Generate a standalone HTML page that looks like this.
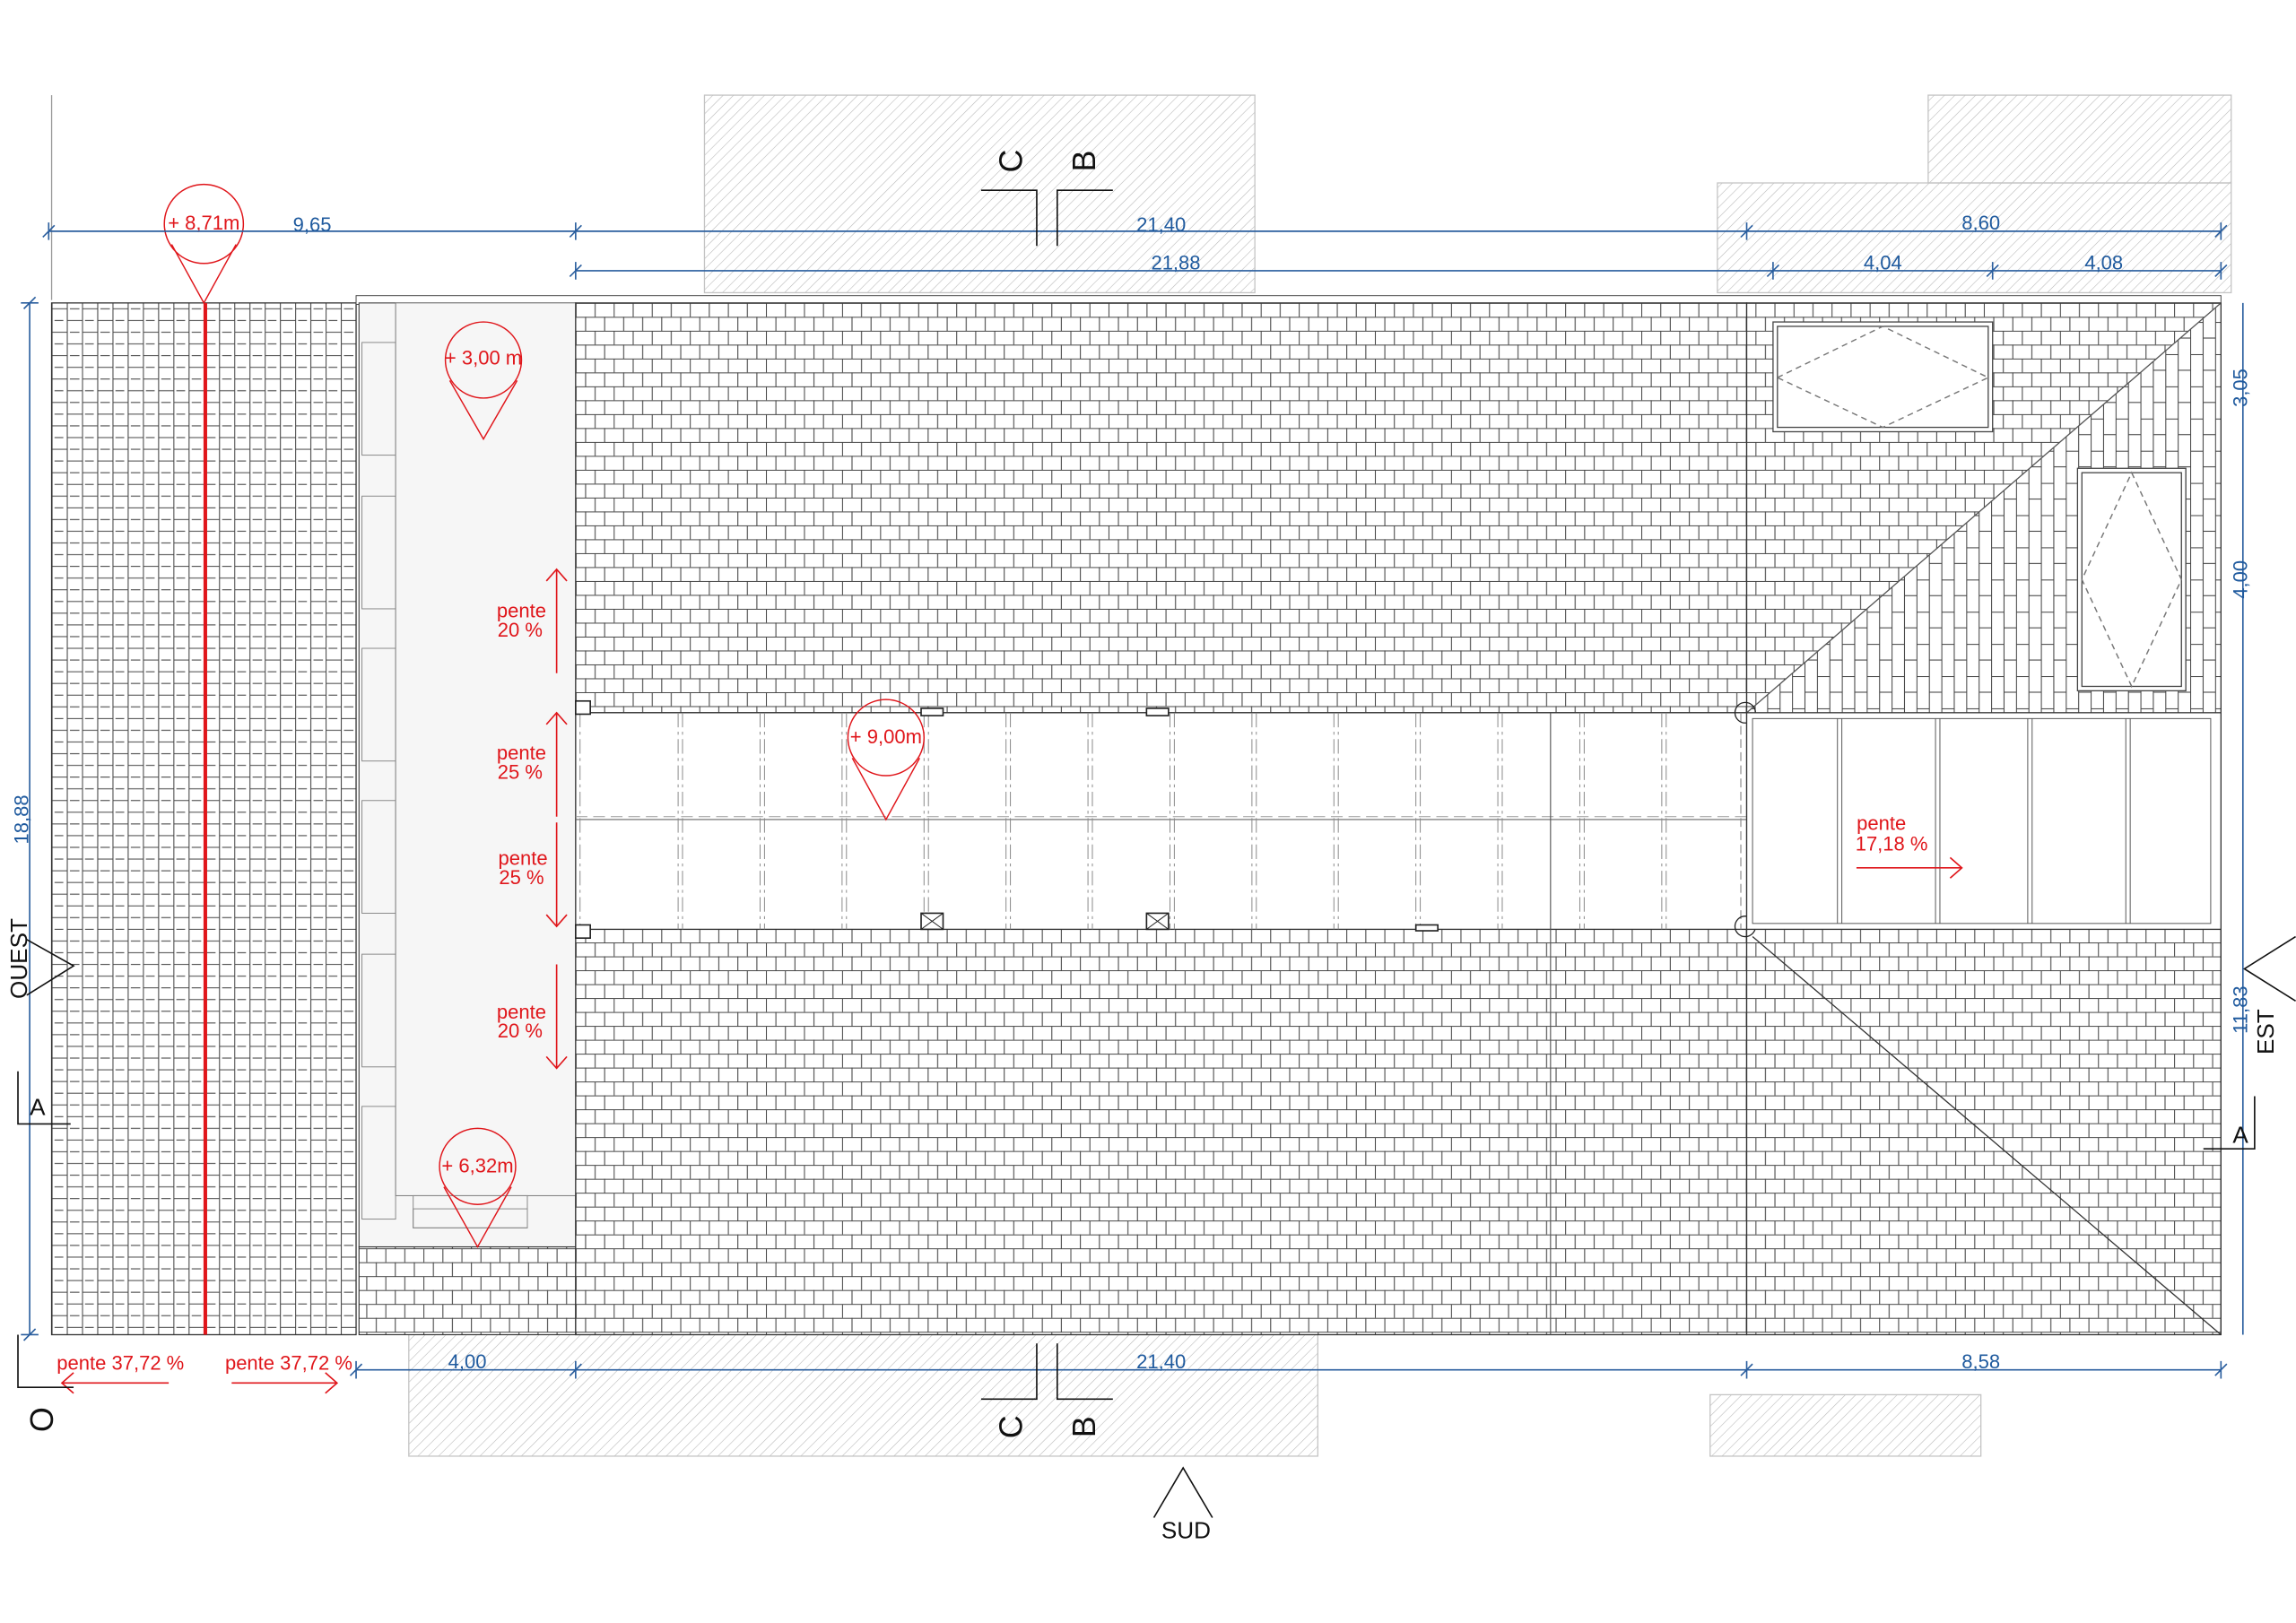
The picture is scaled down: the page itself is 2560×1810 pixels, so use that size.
<!DOCTYPE html>
<html><head><meta charset="utf-8"><style>
html,body{margin:0;padding:0;background:#fff}
svg{display:block}
text{font-family:"Liberation Sans",sans-serif}
.b{fill:#1f5a9e;font-size:13.5px}
.r{fill:#e0161b;font-size:13.5px}
.k{fill:#111}
</style></head><body>
<svg width="2560" height="1810" viewBox="0 0 1568 1109" xmlns="http://www.w3.org/2000/svg">
<defs>
<pattern id="h" width="5" height="5" patternUnits="userSpaceOnUse" patternTransform="rotate(45)">
<line x1="0" y1="0" x2="0" y2="5" stroke="#b8b8b8" stroke-width="0.7"/>
</pattern>
<pattern id="t" width="26" height="19" patternUnits="userSpaceOnUse" x="393" y="207">
<rect width="26" height="19" fill="#fff"/>
<g stroke="#444" stroke-width="0.65">
<line x1="0" y1="0.3" x2="26" y2="0.3"/><line x1="0" y1="9.8" x2="26" y2="9.8"/>
<line x1="0.3" y1="0" x2="0.3" y2="9.5"/><line x1="13.3" y1="0" x2="13.3" y2="9.5"/>
<line x1="6.8" y1="9.5" x2="6.8" y2="19"/><line x1="19.8" y1="9.5" x2="19.8" y2="19"/>
</g></pattern>
<pattern id="v" width="20.8" height="16" patternUnits="userSpaceOnUse" x="35" y="207">
<rect width="20.8" height="16" fill="#fff"/>
<g stroke="#444" stroke-width="0.65">
<line x1="0.3" y1="0" x2="0.3" y2="16"/><line x1="10.7" y1="0" x2="10.7" y2="16"/>
<line x1="0" y1="4" x2="10.4" y2="4"/><line x1="10.4" y1="12" x2="20.8" y2="12"/>
<line x1="2" y1="12" x2="8" y2="12"/><line x1="12.5" y1="4" x2="19" y2="4"/>
</g></pattern>
<pattern id="vv" width="17" height="22" patternUnits="userSpaceOnUse">
<rect width="17" height="22" fill="#fff"/>
<g stroke="#444" stroke-width="0.65">
<line x1="0.3" y1="0" x2="0.3" y2="22"/>
<line x1="0" y1="0.3" x2="8.5" y2="0.3"/><line x1="8.5" y1="11" x2="17" y2="11"/>
<line x1="8.8" y1="0" x2="8.8" y2="22"/>
</g></pattern>
<clipPath id="tri1"><polygon points="1193,487 1517,207 1517,487"/></clipPath>
</defs>

<g stroke="#c4c4c4" stroke-width="0.8" fill="url(#h)">
<rect x="481" y="65" width="376" height="135"/>
<rect x="1317" y="65" width="207" height="60"/>
<rect x="1173" y="125" width="351" height="75"/>
<rect x="279" y="912" width="621" height="83"/>
<rect x="1168" y="953" width="185" height="42"/>
</g>
<line x1="35" y1="65" x2="35" y2="205" stroke="#999" stroke-width="0.8"/>

<rect x="35" y="207" width="208" height="705" fill="url(#v)" stroke="#333" stroke-width="0.8"/>
<rect x="243" y="202" width="1274" height="6" fill="#fff" stroke="#444" stroke-width="0.6"/>
<rect x="245" y="207" width="148" height="645" fill="#f6f6f6" stroke="#444" stroke-width="0.7"/>
<rect x="270" y="207" width="123" height="610" fill="#f6f6f6" stroke="#777" stroke-width="0.6"/>
<g fill="none" stroke="#888" stroke-width="0.6">
<rect x="247" y="234" width="23" height="77"/><rect x="247" y="339" width="23" height="77"/>
<rect x="247" y="443" width="23" height="77"/><rect x="247" y="547" width="23" height="77"/>
<rect x="247" y="652" width="23" height="77"/><rect x="247" y="756" width="23" height="77"/>
<rect x="282" y="817" width="78" height="22"/><rect x="282" y="826" width="78" height="13"/>
</g>
<rect x="245" y="852" width="148" height="60" fill="url(#t)" stroke="#333" stroke-width="0.7"/>
<rect x="393" y="207" width="800" height="280" fill="url(#t)" stroke="#333" stroke-width="0.8"/>
<rect x="393" y="635" width="800" height="277" fill="url(#t)" stroke="#333" stroke-width="0.8"/>
<rect x="1193" y="207" width="324" height="280" fill="url(#t)" stroke="#333" stroke-width="0.8"/>
<rect x="1193" y="207" width="324" height="280" fill="url(#vv)" clip-path="url(#tri1)"/>
<rect x="1193" y="635" width="324" height="277" fill="url(#t)" stroke="#333" stroke-width="0.8"/>
<line x1="1193" y1="487" x2="1517" y2="207" stroke="#555" stroke-width="0.8"/>
<line x1="1197" y1="640" x2="1517" y2="912" stroke="#333" stroke-width="0.8"/>
<line x1="1517" y1="207" x2="1517" y2="912" stroke="#333" stroke-width="0.8"/>

<g stroke="#444" stroke-width="0.8">
<rect x="1211" y="220" width="150" height="75" fill="#fff"/>
<rect x="1214" y="223" width="144" height="69" fill="none"/>
<rect x="1419" y="320" width="74" height="152" fill="#fff"/>
<rect x="1422" y="323" width="68" height="146" fill="none"/>
</g>
<g fill="none" stroke="#777" stroke-width="0.9" stroke-dasharray="4,3">
<polygon points="1214,258 1286,223 1358,258 1286,292"/>
<polygon points="1456,323 1490,396 1456,469 1422,396"/>
</g>

<rect x="393" y="487" width="800" height="148" fill="#fff" stroke="#333" stroke-width="0.8"/>
<line x1="393" y1="560" x2="1193" y2="560" stroke="#666" stroke-width="0.7"/>
<line x1="393" y1="558" x2="1193" y2="558" stroke="#999" stroke-width="0.6" stroke-dasharray="8,4"/>
<g stroke="#888" stroke-width="0.6" stroke-dasharray="10,3,2,3">
<path d="M463 487V635M466 487V635M519 487V635M522 487V635M575 487V635M578 487V635M631 487V635M634 487V635M687 487V635M690 487V635M743 487V635M746 487V635M799 487V635M802 487V635M855 487V635M858 487V635M911 487V635M914 487V635M967 487V635M970 487V635M1023 487V635M1026 487V635M1079 487V635M1082 487V635M1135 487V635M1138 487V635M396 487V635"/>
</g>
<line x1="1059" y1="487" x2="1059" y2="912" stroke="#555" stroke-width="0.7"/>
<line x1="1189" y1="487" x2="1189" y2="635" stroke="#888" stroke-width="0.7" stroke-dasharray="6,3"/>
<g stroke="#222" stroke-width="1" fill="#fff">
<rect x="629" y="624" width="15" height="11"/><rect x="783" y="624" width="15" height="11"/>
<rect x="783" y="484" width="15" height="5"/><rect x="629" y="484" width="15" height="5"/>
<rect x="967" y="632" width="15" height="4"/>
<rect x="393" y="479" width="10" height="9"/><rect x="393" y="632" width="10" height="9"/>
</g>
<g stroke="#222" stroke-width="0.6"><path d="M629 624l15 11M644 624l-15 11M783 624l15 11M798 624l-15 11"/></g>
<circle cx="1192" cy="487" r="7" fill="none" stroke="#222" stroke-width="0.8"/>
<circle cx="1192" cy="633" r="7" fill="none" stroke="#222" stroke-width="0.8"/>

<rect x="1193" y="487" width="324" height="148" fill="#fff" stroke="#333" stroke-width="0.8"/>
<rect x="1197" y="491" width="313" height="140" fill="none" stroke="#555" stroke-width="0.6"/>
<g stroke="#555" stroke-width="0.6"><path d="M1255 491V631M1258 491V631M1322 491V631M1325 491V631M1385 491V631M1388 491V631M1452 491V631M1455 491V631"/></g>

<line x1="140" y1="207" x2="140" y2="912" stroke="#e0161b" stroke-width="2.5"/>

<g fill="none" stroke="#e0161b" stroke-width="0.9">
<circle cx="139" cy="153" r="27"/><path d="M117 167L139 207L161 167"/>
<circle cx="330" cy="246" r="26"/><path d="M307 260L330 300L353 260"/>
<circle cx="605" cy="504" r="26"/><path d="M582 518L605 560L628 518"/>
<circle cx="326" cy="797" r="26"/><path d="M303 811L326 852L349 811"/>
</g>
<text class="r" x="139" y="157" text-anchor="middle">+ 8,71m</text>
<text class="r" x="330" y="249" text-anchor="middle">+ 3,00 m</text>
<text class="r" x="605" y="508" text-anchor="middle">+ 9,00m</text>
<text class="r" x="326" y="801" text-anchor="middle">+ 6,32m</text>

<g class="r" text-anchor="middle">
<text x="356" y="422">pente</text><text x="355" y="435">20 %</text>
<text x="356" y="519">pente</text><text x="355" y="532">25 %</text>
<text x="357" y="591">pente</text><text x="356" y="604">25 %</text>
<text x="356" y="696">pente</text><text x="355" y="709">20 %</text>
<text x="1285" y="567">pente</text><text x="1292" y="581">17,18 %</text>
<text x="82" y="936">pente 37,72 %</text><text x="197" y="936">pente 37,72 %</text>
</g>
<g fill="none" stroke="#e0161b" stroke-width="1">
<path d="M380 389V460M373 397L380 389L387 397"/>
<path d="M380 487V558M373 495L380 487L387 495"/>
<path d="M380 562V633M373 625L380 633L387 625"/>
<path d="M380 659V730M373 722L380 730L387 722"/>
<path d="M1268 593H1340M1332 586L1340 593L1332 600"/>
<path d="M115 945H42M50 938L42 945L50 952"/>
<path d="M158 945H230M222 938L230 945L222 952"/>
</g>

<g stroke="#2a5e9e" stroke-width="1" fill="none">
<path d="M33 158H1517M393 185H1517M243 936H1517M20 207V912M1532 207V912"/>
<path d="M33 152V164M393 152V164M1193 152V164M1517 152V164"/>
<path d="M29 162L37 154M389 162L397 154M1189 162L1197 154M1513 162L1521 154"/>
<path d="M393 179V191M1211 179V191M1361 179V191M1517 179V191"/>
<path d="M389 189L397 181M1207 189L1215 181M1357 189L1365 181M1513 189L1521 181"/>
<path d="M243 930V942M393 930V942M1193 930V942M1517 930V942"/>
<path d="M239 940L247 932M389 940L397 932M1189 940L1197 932M1513 940L1521 932"/>
<path d="M14 207H26M14 912H26M16 211L24 203M16 916L24 908"/>
</g>
<g class="b" text-anchor="middle">
<text x="213" y="158">9,65</text><text x="793" y="158">21,40</text><text x="1353" y="157">8,60</text>
<text x="803" y="184">21,88</text><text x="1286" y="184">4,04</text><text x="1437" y="184">4,08</text>
<text x="319" y="935">4,00</text><text x="793" y="935">21,40</text><text x="1353" y="935">8,58</text>
<text transform="translate(19,560) rotate(-90)">18,88</text>
<text transform="translate(1535,265) rotate(-90)">3,05</text>
<text transform="translate(1535,396) rotate(-90)">4,00</text>
<text transform="translate(1535,690) rotate(-90)">11,83</text>
</g>

<g fill="none" stroke="#111" stroke-width="1">
<path d="M670 130H708V168M760 130H722V168"/>
<path d="M670 956H708V918M760 956H722V918"/>
<path d="M18 642L50 660L18 680"/>
<path d="M1568 640L1533 662L1568 684"/>
<path d="M788 1037L808 1003L828 1037"/>
<path d="M12 732V768H48"/>
<path d="M1505 785H1540V749"/>
<path d="M12 912V948H50"/>
</g>
<g class="k" font-size="22">
<text transform="translate(698,110) rotate(-90)" text-anchor="middle">C</text>
<text transform="translate(748,110) rotate(-90)" text-anchor="middle">B</text>
<text transform="translate(698,975) rotate(-90)" text-anchor="middle">C</text>
<text transform="translate(748,975) rotate(-90)" text-anchor="middle">B</text>
<text transform="translate(36,970) rotate(-90)" text-anchor="middle">O</text>
</g>
<g class="k" font-size="16">
<text transform="translate(18,655) rotate(-90)" text-anchor="middle">OUEST</text>
<text transform="translate(1553,705) rotate(-90)" text-anchor="middle">EST</text>
<text x="810" y="1051" text-anchor="middle">SUD</text>
<text x="20" y="762">A</text>
<text x="1525" y="781">A</text>
</g>
</svg>
</body></html>
